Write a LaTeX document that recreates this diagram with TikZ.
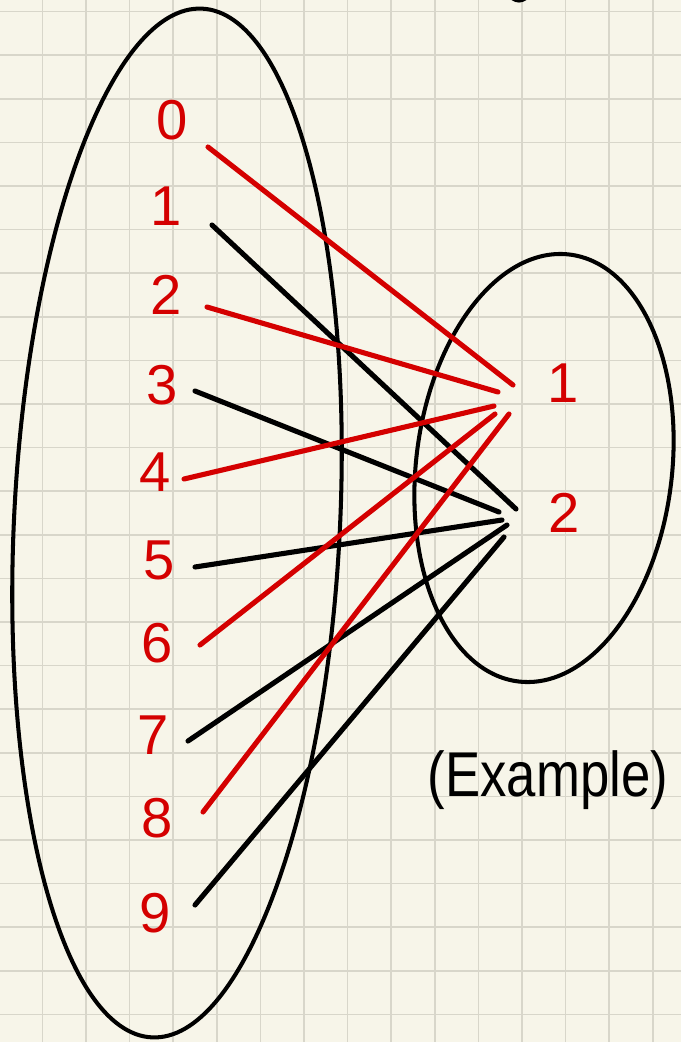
\documentclass[tikz,border=0pt]{standalone}
\usepackage{fontspec}
\setmainfont{Liberation Sans}
\definecolor{penred}{RGB}{212,0,0}
\definecolor{paper}{RGB}{247,245,233}
\definecolor{gridgray}{RGB}{216,214,202}

\begin{document}
\begin{tikzpicture}[x=0.02cm,y=-0.02cm,
  redline/.style={penred,line width=2.9pt,line cap=round},
  blackline/.style={black,line width=2.9pt,line cap=round},
  digit/.style={penred,font=\fontsize{32}{32}\selectfont},
  oval/.style={black,line width=2.3pt}]
\useasboundingbox (0,0) rectangle (681,1042);
\fill[paper] (0,0) rectangle (681,1042);
%grid paper
\foreach \i in {1,...,15} \draw[gridgray,line width=0.85pt] ({-1.2+43.6*\i},0) -- ({-1.2+43.6*\i},1042);
\foreach \j in {0,...,23} \draw[gridgray,line width=0.85pt] (0,{11.6+43.6*\j}) -- (681,{11.6+43.6*\j});

%stroke cut off at the top
\draw[line width=2.6pt,line cap=round] (509,-8) .. controls (512,3) and (526,3) .. (529,-8);

%the two sets
\draw[oval,rotate around={-2.8:(177,523)}] (177,523) ellipse [x radius=163, y radius=515];
\draw[oval,rotate around={-6.8:(544,468)}] (544,468) ellipse [x radius=128, y radius=215];

%left digits
\node[digit] (l0) at (172,120) {0};
\node[digit] (l1) at (166,206) {1};
\node[digit] (l2) at (166,295) {2};
\node[digit] (l3) at (162,385) {3};
\node[digit] (l4) at (155,472) {4};
\node[digit] (l5) at (159,560) {5};
\node[digit] (l6) at (157,643) {6};
\node[digit] (l7) at (153,735) {7};
\node[digit] (l8) at (157,818) {8};
\node[digit] (l9) at (155,913) {9};

%right digits
\node[digit] (r1) at (563,383) {1};
\node[digit] (r2) at (564,513) {2};

\node[font=\fontsize{30}{30}\selectfont,yscale=1.2,transform shape] (ex) at (548,780) {(Example)};

%line ends
\coordinate (s0) at (208,147); \coordinate (e0) at (513,385);
\coordinate (s1) at (212,225); \coordinate (e1) at (516,509);
\coordinate (s2) at (207,307); \coordinate (e2) at (498,392);
\coordinate (s3) at (195,391); \coordinate (e3) at (499,512);
\coordinate (s4) at (184,479); \coordinate (e4) at (494,406);
\coordinate (s5) at (195,567); \coordinate (e5) at (502,520);
\coordinate (s6) at (200,645); \coordinate (e6) at (495,414);
\coordinate (s7) at (188,741); \coordinate (e7) at (507,525);
\coordinate (s8) at (203,812); \coordinate (e8) at (509,414);
\coordinate (s9) at (195,905); \coordinate (e9) at (504,537);

\foreach \k in {1,3,5,7,9} \draw[blackline] (s\k) -- (e\k);
\foreach \k in {0,2,4,6,8} \draw[redline] (s\k) -- (e\k);
\end{tikzpicture}
\end{document}
